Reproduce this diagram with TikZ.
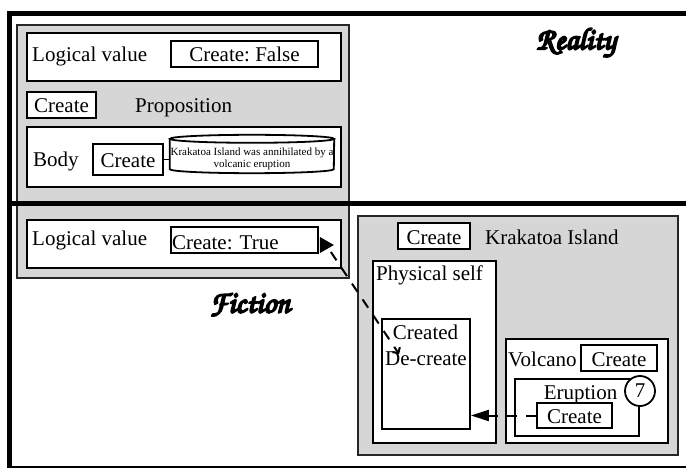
\documentclass[tikz,border=0pt]{standalone}
\usepackage[T1]{fontenc}
\usepackage{fontspec}
\setmainfont{Liberation Serif}
\usetikzlibrary{arrows.meta}
\definecolor{panelgray}{RGB}{214,214,214}
\newcommand\handfont{\usefont{T1}{pzc}{mb}{it}}
% stroke the glyph outlines as well as filling them, for a heavier script
\newcommand\heavy[1]{\special{pdf:literal q 2 Tr 1.8 w 1 j}#1\special{pdf:literal Q}}

\begin{document}
\frenchspacing
\begin{tikzpicture}[x=1pt,y=-1pt,
  txt/.style={font=\fontsize{21}{24}\selectfont, inner sep=0pt},
  frame/.style={line width=5.5pt},
  panel/.style={draw=black!85, line width=1.4pt, fill=panelgray, inner sep=0pt},
  wbox/.style={draw, line width=1.8pt, fill=white, inner sep=0pt},
  cbox/.style={wbox, txt, text height=16pt, text depth=0pt},
  link/.style={line width=2pt, dash pattern=on 10pt off 9pt},
  hand/.style={inner sep=0pt, font=\fontsize{31}{31}\handfont},
]
\useasboundingbox (0,0) rectangle (686,468);

% proposition panel (spans both worlds)
\node[panel, minimum width=332pt, minimum height=253pt] (prop) at (183,151.5) {};

% reality / fiction frames
\draw[frame] (700,13.5) -- (9.5,13.5) -- (9.5,480);
\draw[frame] (9.5,203.5) -- (700,203.5);
\draw[line width=3pt] (9.5,467) -- (700,467);

% --- reality: proposition contents
\node[wbox, minimum width=314pt, minimum height=48pt] (lv1) at (184,57) {};
\node[txt, anchor=base west] (lv1t) at (32,62) {Logical value};
\node[cbox, minimum width=147pt, minimum height=26pt] (cfalse) at (244.5,54) {Create: False};
\node[cbox, minimum width=69pt, minimum height=26pt] (cprop) at (61.5,105) {Create};
\node[txt, anchor=base west] (propt) at (135,113) {Proposition};
\node[wbox, minimum width=314pt, minimum height=60pt] (body) at (184,157) {};
\node[txt, anchor=base west] (bodyt) at (33,167) {Body};
\node[cbox, minimum width=70pt, minimum height=31pt] (cbody) at (128,159.5) {Create};

% statement cylinder
\node[inner sep=0pt, minimum width=164pt, minimum height=34pt] (cyl) at (252,156) {};
\draw[line width=1.8pt, fill=white] (cyl.north west) -- ([yshift=4pt]cyl.south west)
  arc[start angle=180, end angle=360, x radius=82pt, y radius=4pt] -- (cyl.north east);
\draw[line width=1.8pt] (cyl.north) ellipse[x radius=82pt, y radius=4pt];
\node[font=\fontsize{11}{12}\selectfont, align=center, inner sep=0pt] (cylt) at (252,158.5)
  {Krakatoa Island was annihilated by a\\volcanic eruption};
\draw[line width=1.8pt] (cbody.east) -- (cbody.east -| cyl.west);

% --- fiction: logical value
\node[wbox, minimum width=314pt, minimum height=48pt] (lv2) at (184,244) {};
\node[txt, anchor=base west] (lv2t) at (32,245) {Logical value};
\node[wbox, txt, minimum width=147pt, minimum height=26pt, text height=20pt, text depth=0pt,
  text width=145pt, align=left] (ctrue) at (244.5,240) {Create: True};

% Krakatoa Island
\node[panel, minimum width=320pt, minimum height=239pt] (krak) at (518,335.5) {};
\node[cbox, minimum width=72pt, minimum height=26pt] (ckrak) at (434,236) {Create};
\node[txt, anchor=base west] (krakt) at (485,244) {Krakatoa Island};
\node[wbox, minimum width=123pt, minimum height=182pt] (phys) at (434.5,352) {};
\node[txt, anchor=base west] (physt) at (376,280.5) {Physical self};
\node[wbox, minimum width=88pt, minimum height=110pt] (created) at (426,374) {};
\node[txt, anchor=base] (createdt) at (425.5,339.5) {Created};
\node[txt, anchor=base] (decreate) at (426,365) {De-create};
\node[wbox, minimum width=162pt, minimum height=104pt] (volc) at (587,391) {};
\node[txt, anchor=base west] (volct) at (508,366) {Volcano};
\node[cbox, minimum width=76pt, minimum height=26pt] (cvolc) at (619,358) {Create};
\node[wbox, minimum width=124pt, minimum height=57pt] (erup) at (577,407.5) {};
\node[txt, anchor=base] (erupt) at (580.5,399.5) {Eruption};
\node[wbox, txt, circle, minimum size=30pt] (seven) at (640,391) {7};
\node[cbox, minimum width=75pt, minimum height=25pt] (cerup) at (574.5,415.5) {Create};

% links
\draw[link, -{Triangle[length=18pt,width=11pt]}] (cerup.west) -- (cerup.west -| created.east);
\fill ([shift={(1pt,3pt)}]ctrue.east) -- ([shift={(1pt,-13pt)}]ctrue.east)
  -- ([shift={(15pt,-5pt)}]ctrue.east) -- cycle;
\coordinate (linkend) at ([shift={(18pt,-36pt)}]created.north west);
\draw[link, -{Straight Barb[length=4pt,width=9pt]}] ([shift={(12pt,-12pt)}]ctrue.east) -- (linkend);

% world labels
\node[hand] (reality) at (576,43) {\heavy{Reality}};
\node[hand] (fiction) at (250,305) {\heavy{Fiction}};
\end{tikzpicture}
\end{document}
